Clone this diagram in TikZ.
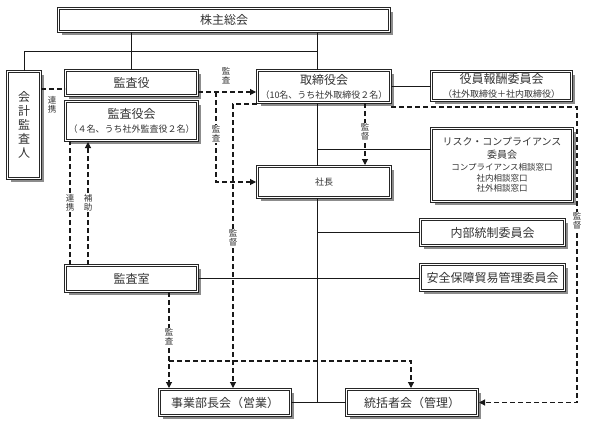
\documentclass[tikz,border=0pt]{standalone}
\usepackage{fontspec}
\setmainfont{Noto Sans CJK JP}
\usetikzlibrary{arrows.meta,shadows}

\newcommand{\subtxt}[1]{{\fontsize{9}{11}\selectfont #1}}
\newcommand{\smalltxt}[1]{{\fontsize{8.5}{10.5}\selectfont #1}}

\begin{document}
\begin{tikzpicture}[x=1pt,y=-1pt,
    box/.style={draw=black!85,line width=1pt,double=white,double distance=1.2pt,fill=white,
      drop shadow={shadow xshift=3.3pt,shadow yshift=-3.3pt,fill=black!50,opacity=.9},
      inner sep=0pt,align=center,text=black!80,font=\fontsize{12}{14}\selectfont},
    link/.style={draw=black!90,line width=1pt},
    dline/.style={draw=black!90,line width=1.1pt,dash pattern=on 5pt off 3pt},
    darr/.style={dline,-{Triangle[length=6pt,width=6pt]},shorten >=1pt},
    lbl/.style={fill=white,inner sep=0.6pt,align=center,text=black!80,font=\fontsize{8.5}{9}\selectfont}]
  \useasboundingbox (0,0) rectangle (589,423);

  % boxes
  \node[box,minimum width=331,minimum height=23] (kabu) at (224,20) {株主総会};
  \node[box,minimum width=33,minimum height=107] (kaikei) at (24,125) {会\\計\\監\\査\\人};
  \node[box,minimum width=132,minimum height=25] (kansayaku) at (131.5,83) {監査役};
  \node[box,minimum width=132,minimum height=39] (kansayakukai) at (131.5,121)
    {監査役会\\\subtxt{（４名、うち社外監査役２名）}};
  \node[box,minimum width=133,minimum height=32] (tori) at (324,86.5)
    {取締役会\\\subtxt{（10名、うち社外取締役２名）}};
  \node[box,minimum width=140,minimum height=29] (houshu) at (501.5,86)
    {役員報酬委員会\\\subtxt{（社外取締役＋社内取締役）}};
  \node[box,minimum width=133,minimum height=31,font=\fontsize{9}{11}\selectfont] (shacho) at (324,182) {社長};
  \node[box,minimum width=141,minimum height=73,font=\fontsize{10}{12.5}\selectfont] (risk) at (502,165)
    {リスク・コンプライアンス\\委員会\\\smalltxt{コンプライアンス相談窓口}\\[-2pt]\smalltxt{社内相談窓口}\\[-2pt]\smalltxt{社外相談窓口}};
  \node[box,minimum width=144,minimum height=26] (naibu) at (492.5,232.5) {内部統制委員会};
  \node[box,minimum width=144,minimum height=26] (anzen) at (492.5,277.5) {安全保障貿易管理委員会};
  \node[box,minimum width=132,minimum height=26] (kansashitsu) at (131.5,278.5) {監査室};
  \node[box,minimum width=131,minimum height=26] (jigyo) at (225,402.5) {事業部長会（営業）};
  \node[box,minimum width=131,minimum height=26] (tokatsu) at (412,402.5) {統括者会（管理）};

  % junctions
  \coordinate (j0) at (317,51);
  \coordinate (jr) at (317,149);
  \coordinate (c1) at (216,92);
  \coordinate (c2) at (233,104);
  \coordinate (c3) at (365,0);
  \coordinate (c4) at (70,0);
  \coordinate (c5) at (88,0);
  \coordinate (c6) at (169,361);
  \coordinate (c7) at (411,361);
  \coordinate (c8) at (577,107);
  \coordinate (c9) at (0,89);
  \coordinate (c10) at (0,278);

  % solid lines
  \draw[link] (kansayaku.north |- kabu.south) -- (kansayaku.north);
  \draw[link] (kabu.south -| j0) -- (tori.north -| j0);
  \draw[link] (kaikei.north) |- (j0);
  \draw[link] (houshu.west -| tori.east) -- (houshu.west);
  \draw[link] (tori.south -| j0) -- (shacho.north -| j0);
  \draw[link] (jr) -- (jr -| risk.west);
  \draw[link] (shacho.south -| j0) -- (j0 |- jigyo.east);
  \draw[link] (jigyo.east) -- (tokatsu.west);
  \draw[link] (j0 |- naibu.west) -- (naibu.west);
  \draw[link] (c10 -| kansashitsu.east) -- (c10 -| anzen.west);

  % dashed lines
  \draw[dline] (c9 -| kaikei.east) -- (c9 -| kansayaku.west);
  \draw[darr] (c1 -| kansayaku.east) -- (c1 -| tori.west);
  \draw[darr] (c1) |- (shacho.west);
  \draw[darr] (c2 -| tori.west) -- (c2) -- (c2 |- jigyo.north);
  \draw[darr] (tori.south -| c3) -- (shacho.north -| c3);
  \draw[dline] (kansashitsu.north -| c4) -- (kansayakukai.south -| c4);
  \draw[darr] (kansashitsu.north -| c5) -- (kansayakukai.south -| c5);
  \draw[darr] (kansashitsu.south -| c6) -- (jigyo.north -| c6);
  \draw[darr] (c6) -- (c7) -- (c7 |- tokatsu.north);
  \draw[darr] (c8 -| tori.east) -- (c8) |- (tokatsu.east);

  % labels
  \node[lbl] (l1) at (52,105) {連\\携};
  \node[lbl] (l2) at (226,76) {監\\査};
  \node[lbl] (l3) at (216,134) {監\\査};
  \node[lbl] (l4) at (233,238) {監\\督};
  \node[lbl] (l5) at (365,132) {監\\督};
  \node[lbl] (l6) at (70,203) {連\\携};
  \node[lbl] (l7) at (88,203) {補\\助};
  \node[lbl] (l8) at (169,337) {監\\査};
  \node[lbl] (l9) at (577,221) {監\\督};
\end{tikzpicture}
\end{document}
